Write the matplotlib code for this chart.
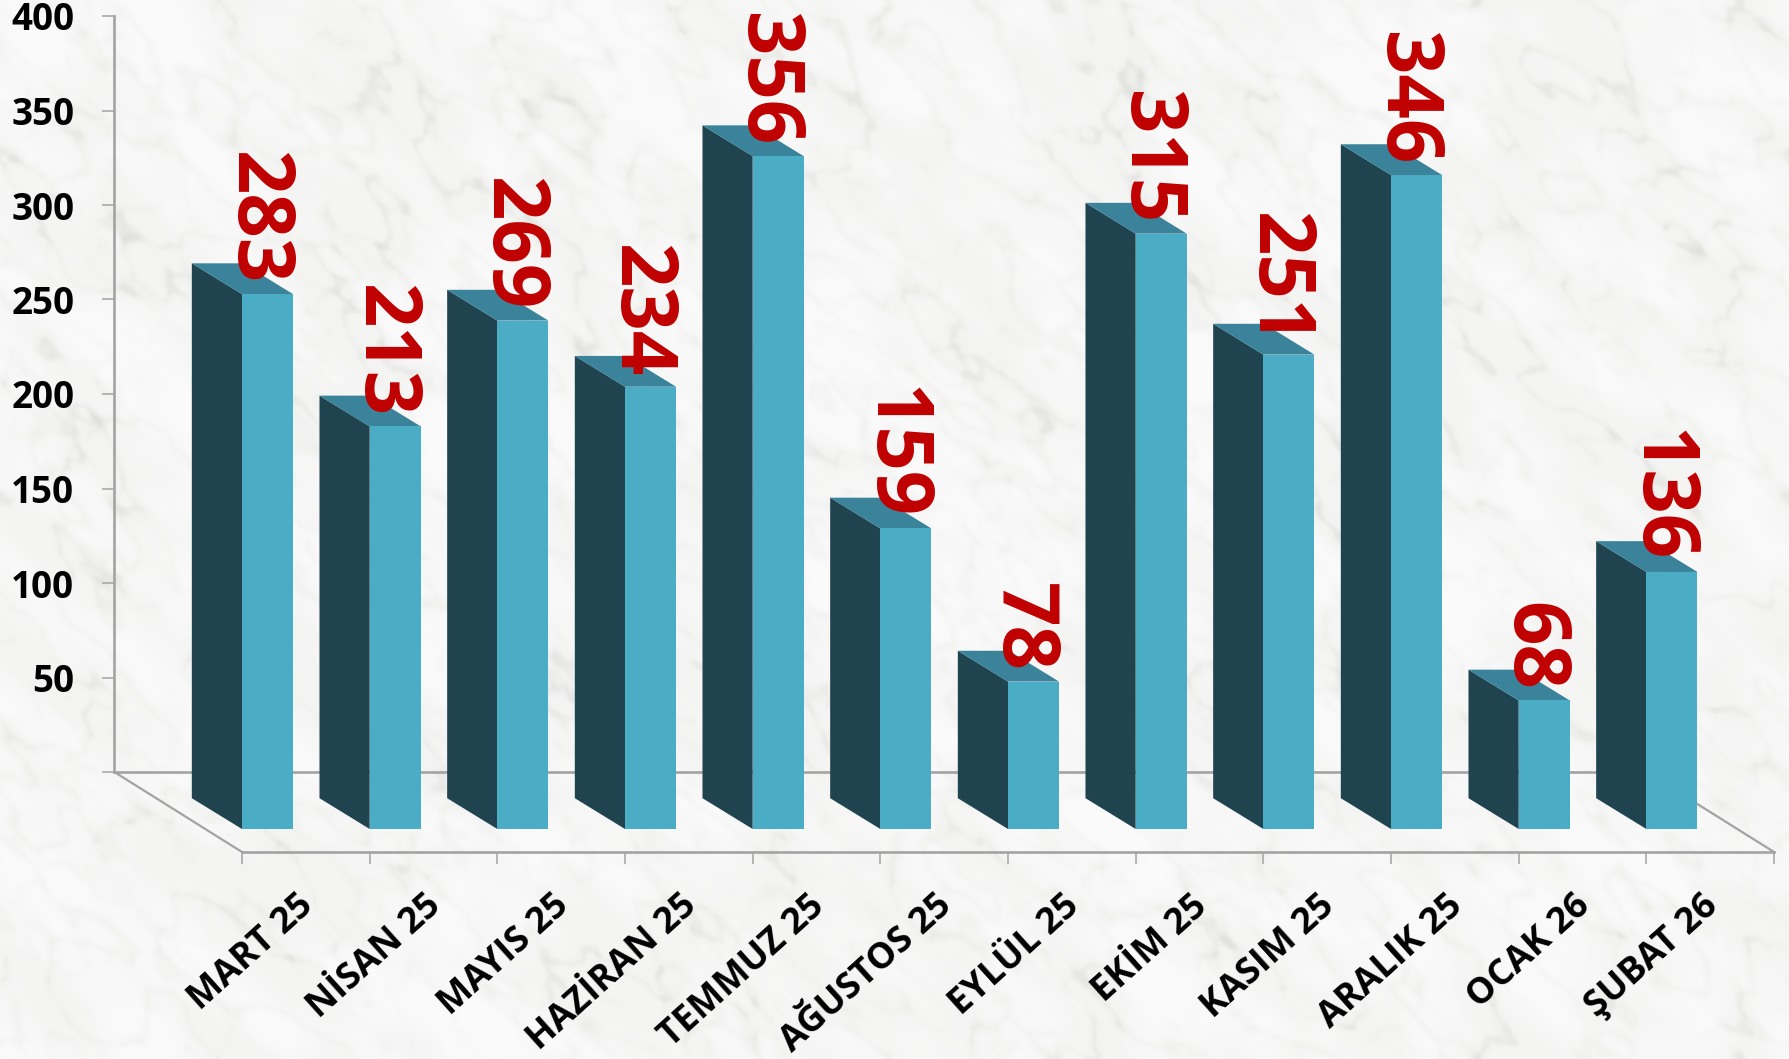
import numpy as np
import matplotlib
matplotlib.use("Agg")
import matplotlib.pyplot as plt
from matplotlib.colors import LinearSegmentedColormap

months = ["MART 25", "NİSAN 25", "MAYIS 25", "HAZİRAN 25", "TEMMUZ 25", "AĞUSTOS 25",
          "EYLÜL 25", "EKİM 25", "KASIM 25", "ARALIK 25", "OCAK 26", "ŞUBAT 26"]
values = [283, 213, 269, 234, 356, 159, 78, 315, 251, 346, 68, 136]
wall_ticks = [0, 50, 100, 150, 200, 250, 300, 350, 400]

W, H = 1789, 1059
FRONT, SIDE, TOP = "#4BACC6", "#1F444F", "#3A839A"
AXIS = "#A3A3A3"
plt.rcParams["font.family"] = ["Open Sans", "DejaVu Sans"]

fig = plt.figure(figsize=(W / 100, H / 100), dpi=100)


def rect(x0, y0_top, x1, y1_top):
    return [x0 / W, 1 - y1_top / H, (x1 - x0) / W, (y1_top - y0_top) / H]


# decorative marble backdrop (texture only, not chart data)
def marble(h, w, seed):
    rng = np.random.default_rng(seed)
    fy = np.fft.fftfreq(h)[:, None]
    fx = np.fft.rfftfreq(w)[None, :]
    out = np.zeros((h, w))
    for scale, amp in [(0.009, 1.0), (0.02, 0.5), (0.05, 0.15)]:
        u = (fx + fy) * 1.6
        v = (fx - fy) * 0.7
        g = np.exp(-(u ** 2 + v ** 2) / (2 * scale ** 2))
        n = np.fft.irfft2(np.fft.rfft2(rng.standard_normal((h, w))) * g, s=(h, w))
        out += amp * n / n.std()
    return out


def blur(a, sigma):
    fy = np.fft.fftfreq(a.shape[0])[:, None]
    fx = np.fft.rfftfreq(a.shape[1])[None, :]
    g = np.exp(-2 * (np.pi * sigma) ** 2 * (fx ** 2 + fy ** 2))
    return np.fft.irfft2(np.fft.rfft2(a) * g, s=a.shape)


n1 = marble(H, W, 3)
n2 = marble(H, W, 11)
veins = np.exp(-(n1 / 0.2) ** 2) * 0.5 + np.exp(-(n2 / 0.14) ** 2) * 0.32
clouds = np.clip(marble(H, W, 23) * 0.35 + 0.5, 0, 1) * 0.35
tex = np.clip(blur(veins, 2.2) * 0.8 + clouds, 0, 1)
cmap = LinearSegmentedColormap.from_list("marble", ["#FAFAFA", "#F2F2F1", "#DCDCD8"])
bg = fig.add_axes([0, 0, 1, 1], zorder=0)
bg.imshow(tex, cmap=cmap, vmin=0, vmax=1, aspect="auto", interpolation="bilinear")
bg.axis("off")

# back wall carrying the real 0-400 value scale
wall = fig.add_axes(rect(114, 16, 1646, 772), zorder=1)
wall.patch.set_alpha(0)
wall.set_ylim(0, 400)
wall.set_xlim(0, 1)
wall.set_xticks([])
wall.set_yticks(wall_ticks)
wall.set_yticklabels(["" if t == 0 else str(t) for t in wall_ticks], fontsize=26.5, fontweight="bold", color="black")
wall.tick_params(axis="y", length=8.6, width=1.1, color=AXIS, pad=20)
for s in ["top", "right"]:
    wall.spines[s].set_visible(False)
for s in ["left", "bottom"]:
    wall.spines[s].set_color(AXIS)
    wall.spines[s].set_linewidth(1.9)

# front plane: bars and category axis
UNIT = (828 - 16 - 56) / 400  # px per value
BASE = 829
y_floor = -(852 - BASE) / UNIT
y_wall = (BASE - 772) / UNIT
DX, DY = -0.393, 27 * 1.141 / UNIT

ax = fig.add_axes(rect(242, 0, 1774, 852), zorder=2)
ax.patch.set_alpha(0)
ax.set_xlim(0, 12)
ax.set_ylim(y_floor, BASE / UNIT)
for s in ["top", "right", "left"]:
    ax.spines[s].set_visible(False)
ax.spines["bottom"].set_color(AXIS)
ax.spines["bottom"].set_linewidth(1.9)
ax.set_yticks([])
ax.set_xticks(np.arange(13))
ax.set_xticklabels([])
ax.tick_params(axis="x", which="major", length=8.6, width=1.1, color=AXIS)
ax.set_xticks(np.arange(12) + 0.43, minor=True)
ax.set_xticklabels(months, minor=True, rotation=42, ha="right", va="top", rotation_mode="anchor",
                   fontsize=26, fontweight="bold", color="black")
ax.tick_params(axis="x", which="minor", length=0, pad=26)

ax.plot([-1, 0], [y_wall, y_floor], color=AXIS, lw=1.6, clip_on=False, zorder=1)
ax.plot([11, 12], [y_wall, y_floor], color=AXIS, lw=1.6, clip_on=False, zorder=1)

BW = 0.4
for i, v in enumerate(values):
    ax.fill([i, i + DX, i + DX, i], [0, DY, v + DY, v], color=SIDE, lw=0, zorder=3, clip_on=False)
    ax.fill([i, i + DX, i + DX + BW, i + BW], [v, v + DY, v + DY, v], color=TOP, lw=0, zorder=3, clip_on=False)
ax.bar(np.arange(12), values, width=BW, align="edge", color=FRONT, linewidth=0, zorder=3)

for i, v in enumerate(values):
    ax.annotate(str(v), (i + BW / 2, v), xytext=(-9, 7), textcoords="offset points",
                rotation=-90, ha="center", va="bottom", fontsize=56, fontweight="bold",
                color="#C00000", annotation_clip=False, zorder=5)

fig.savefig("out.png", dpi=100)
